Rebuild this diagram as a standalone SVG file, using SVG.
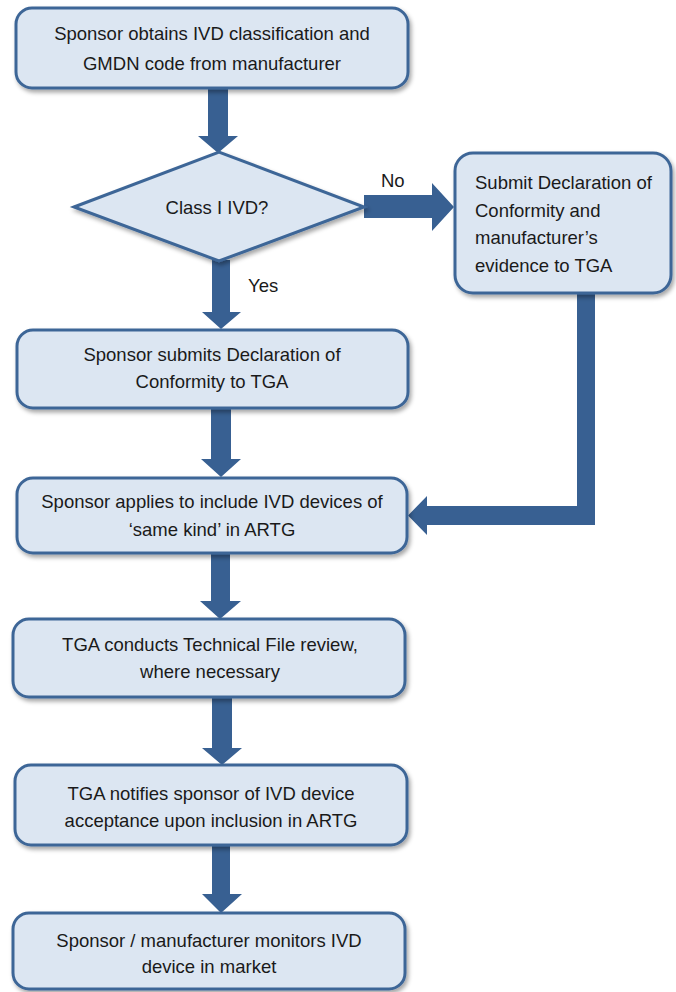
<svg xmlns="http://www.w3.org/2000/svg" width="676" height="992" viewBox="0 0 676 992">
  <defs>
    <filter id="sh" x="-10%" y="-10%" width="125%" height="130%">
      <feDropShadow dx="2" dy="3" stdDeviation="2" flood-color="#000" flood-opacity="0.35"/>
    </filter>
    <style>
      .box { fill: #dce6f2; stroke: #3e6697; stroke-width: 3; filter: url(#sh); }
      .arr { fill: #386092; }
      .t { font-family: "Liberation Sans", Arial, sans-serif; font-size: 18.5px; fill: #1a1a1a; text-anchor: middle; }
      .tl { text-anchor: start; }
    </style>
  </defs>
  <rect width="676" height="992" fill="#ffffff"/>

  <g id="connectors">
    <polygon class="arr" points="208,88 228,88 228,136 238,136 218,153 198,136 208,136"/>
    <polygon class="arr" points="212,260 230,260 230,312 241,312 221,329 202,312 212,312"/>
    <polygon class="arr" points="364,195 432,195 432,183 454,207 432,231 432,218 364,218"/>
    <polygon class="arr" points="211,408 231,408 231,459 241,459 221,477 201,459 211,459"/>
    <polygon class="arr" points="577,294 595,294 595,525 427,525 427,535 408,515.5 427,496 427,506 577,506"/>
    <polygon class="arr" points="211,553 230,553 230,601 241,601 220,619 200,601 211,601"/>
    <polygon class="arr" points="212,697 232,697 232,748 242,748 222,765 202,748 212,748"/>
    <polygon class="arr" points="212,845 230,845 230,894 242,894 221,913 202,894 212,894"/>
    <text class="t tl" x="381" y="187">No</text>
    <text class="t tl" x="248" y="292">Yes</text>
  </g>

  <g id="n1">
    <rect class="box" x="16" y="8" width="392" height="80" rx="16"/>
    <text class="t" x="212" y="39.5">Sponsor obtains IVD classification and</text>
    <text class="t" x="212" y="69.5">GMDN code from manufacturer</text>
  </g>

  <g id="n2">
    <polygon class="box" points="74,207 219,152 364,207 219,261"/>
    <text class="t" x="217" y="214">Class I IVD?</text>
  </g>

  <g id="n3">
    <rect class="box" x="455" y="153" width="216" height="140" rx="18"/>
    <text class="t tl" x="475" y="189">Submit Declaration of</text>
    <text class="t tl" x="475" y="217">Conformity and</text>
    <text class="t tl" x="475" y="244">manufacturer’s</text>
    <text class="t tl" x="475" y="272">evidence to TGA</text>
  </g>

  <g id="n4">
    <rect class="box" x="17" y="330" width="391" height="78" rx="16"/>
    <text class="t" x="212" y="361">Sponsor submits Declaration of</text>
    <text class="t" x="212" y="388">Conformity to TGA</text>
  </g>

  <g id="n5">
    <rect class="box" x="17" y="478" width="390" height="75" rx="16"/>
    <text class="t" x="212" y="508">Sponsor applies to include IVD devices of</text>
    <text class="t" x="212" y="536">‘same kind’ in ARTG</text>
  </g>

  <g id="n6">
    <rect class="box" x="13" y="619" width="392" height="78" rx="16"/>
    <text class="t" x="210" y="651">TGA conducts Technical File review,</text>
    <text class="t" x="210" y="678">where necessary</text>
  </g>

  <g id="n7">
    <rect class="box" x="15" y="765" width="392" height="80" rx="16"/>
    <text class="t" x="211" y="800">TGA notifies sponsor of IVD device</text>
    <text class="t" x="211" y="827">acceptance upon inclusion in ARTG</text>
  </g>

  <g id="n8">
    <rect class="box" x="13" y="913" width="392" height="76" rx="16"/>
    <text class="t" x="209" y="947">Sponsor / manufacturer monitors IVD</text>
    <text class="t" x="209" y="973">device in market</text>
  </g>
</svg>
